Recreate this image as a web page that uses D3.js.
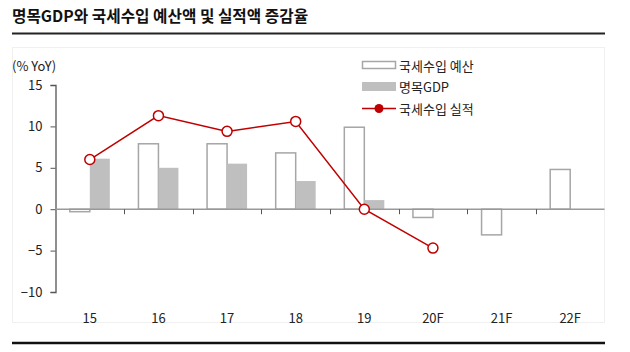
<!DOCTYPE html>
<html>
<head>
<meta charset="utf-8">
<script src="https://cdn.jsdelivr.net/npm/d3@7"></script>
<style>
  body { margin: 0; background: #fff; }
  svg { font-family: "Noto Sans CJK KR", "Noto Sans", sans-serif; }
</style>
</head>
<body>
<div id="chart"></div>
<script>
const years = ['15', '16', '17', '18', '19', '20F', '21F', '22F']
const budget = [-0.3, 7.9, 7.9, 6.8, 9.9, -1.0, -3.1, 4.8] // 국세수입 예산
const gdp = [6.1, 5.0, 5.5, 3.4, 1.1, null, null, null] // 명목GDP
const actual = [6.0, 11.3, 9.4, 10.6, 0.0, -4.7, null, null] // 국세수입 실적
const yTicks = [-10, -5, 0, 5, 10, 15]

const width = 630, height = 352
const margin = { top: 85, right: 25, bottom: 60, left: 55.5 }

const svg = d3.select('#chart').append('svg')
    .attr('width', width)
    .attr('height', height)

// Title
svg.append('text')
    .attr('x', 12)
    .attr('y', 22)
    .attr('font-size', 15.7)
    .attr('font-weight', 'bold')
    .attr('fill', '#111')
    .text('명목GDP와 국세수입 예산액 및 실적액 증감율')

svg.append('line')
    .attr('x1', 12).attr('x2', 605)
    .attr('y1', 33.5).attr('y2', 33.5)
    .attr('stroke', '#222').attr('stroke-width', 2)

// faint frame
svg.append('rect')
    .attr('x', 12.5).attr('y', 47.5)
    .attr('width', 592).attr('height', 275)
    .attr('fill', 'none')
    .attr('stroke', '#f0f0f0')

svg.append('line')
    .attr('x1', 12).attr('x2', 605)
    .attr('y1', 343).attr('y2', 343)
    .attr('stroke', '#111').attr('stroke-width', 2.5)

const x = d3.scaleBand()
    .domain(years)
    .range([margin.left, 604.5])

const y = d3.scaleLinear()
    .domain([-10, 15])
    .range([292, 85])

const barW = 20

// y axis
const yAxis = svg.append('g')
    .attr('transform', `translate(${margin.left},0)`)
    .call(d3.axisLeft(y).tickValues(yTicks).tickSize(5).tickPadding(8))
yAxis.select('.domain').attr('stroke', '#555').attr('stroke-width', 1.3)
yAxis.selectAll('.tick line').attr('stroke', '#555')
yAxis.selectAll('text').attr('font-size', 13).attr('fill', '#222')
    .attr('font-family', '"Noto Sans CJK KR", sans-serif')

svg.append('text')
    .attr('x', 12)
    .attr('y', 71)
    .attr('font-size', 13)
    .attr('fill', '#222')
    .text('(% YoY)')

// budget bars
svg.append('g').selectAll('rect')
    .data(years.map((d, i) => ({ year: d, v: budget[i] })))
    .join('rect')
    .attr('x', d => x(d.year) + x.bandwidth() / 2 - barW)
    .attr('y', d => y(Math.max(0, d.v)))
    .attr('width', barW)
    .attr('height', d => Math.abs(y(d.v) - y(0)))
    .attr('fill', '#fff')
    .attr('stroke', '#a6a6a6')
    .attr('stroke-width', 1.5)

// GDP bars
svg.append('g').selectAll('rect')
    .data(years.map((d, i) => ({ year: d, v: gdp[i] })).filter(d => d.v != null))
    .join('rect')
    .attr('x', d => x(d.year) + x.bandwidth() / 2)
    .attr('y', d => y(Math.max(0, d.v)))
    .attr('width', barW)
    .attr('height', d => Math.abs(y(d.v) - y(0)))
    .attr('fill', '#bfbfbf')

// x axis
const xAxis = svg.append('g')
    .attr('transform', `translate(0,${y(0)})`)
xAxis.append('line')
    .attr('x1', margin.left).attr('x2', 604.5)
    .attr('y1', 0).attr('y2', 0)
    .attr('stroke', '#999').attr('stroke-width', 1.5)
xAxis.selectAll('.xtick')
    .data(years.slice(1))
    .join('line')
    .attr('class', 'xtick')
    .attr('x1', d => Math.round(x(d)) + 0.5)
    .attr('x2', d => Math.round(x(d)) + 0.5)
    .attr('y1', 0).attr('y2', 5)
    .attr('stroke', '#555')

svg.append('g').selectAll('text')
    .data(years)
    .join('text')
    .attr('x', d => x(d) + x.bandwidth() / 2)
    .attr('y', 323)
    .attr('text-anchor', 'middle')
    .attr('font-size', 13)
    .attr('fill', '#222')
    .text(d => d)

// actual line
const actualPts = years.map((d, i) => ({ year: d, v: actual[i] })).filter(d => d.v != null)
const lineColor = '#c00000'
svg.append('path')
    .datum(actualPts)
    .attr('fill', 'none')
    .attr('stroke', lineColor)
    .attr('stroke-width', 1.5)
    .attr('d', d3.line().x(d => x(d.year) + x.bandwidth() / 2).y(d => y(d.v)))

svg.append('g').selectAll('circle')
    .data(actualPts)
    .join('circle')
    .attr('cx', d => x(d.year) + x.bandwidth() / 2)
    .attr('cy', d => y(d.v))
    .attr('r', 5)
    .attr('fill', '#fff')
    .attr('stroke', lineColor)
    .attr('stroke-width', 1.5)

// legend
const lg = svg.append('g')
lg.append('rect')
    .attr('x', 362.5).attr('y', 61.5)
    .attr('width', 33).attr('height', 7)
    .attr('fill', '#fff').attr('stroke', '#a6a6a6').attr('stroke-width', 1.5)
lg.append('rect')
    .attr('x', 362).attr('y', 82)
    .attr('width', 34).attr('height', 9)
    .attr('fill', '#bfbfbf')
lg.append('line')
    .attr('x1', 362).attr('x2', 396)
    .attr('y1', 108.5).attr('y2', 108.5)
    .attr('stroke', lineColor).attr('stroke-width', 1.5)
lg.append('circle')
    .attr('cx', 379).attr('cy', 108.5).attr('r', 4.5)
    .attr('fill', lineColor)

const legendLabels = ['국세수입 예산', '명목GDP', '국세수입 실적']
lg.selectAll('text')
    .data(legendLabels)
    .join('text')
    .attr('x', 399)
    .attr('y', (d, i) => 65 + i * 21.5)
    .attr('dominant-baseline', 'central')
    .attr('font-size', 13)
    .attr('fill', '#222')
    .text(d => d)
</script>
</body>
</html>
